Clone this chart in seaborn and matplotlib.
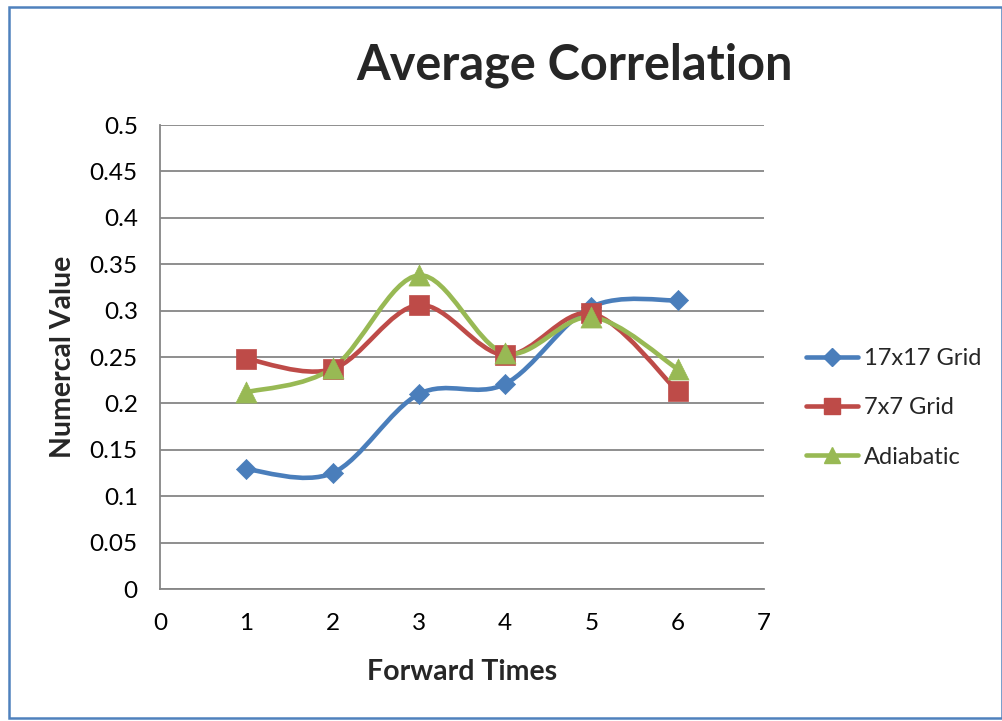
import numpy as np
import pandas as pd
import seaborn as sns
import matplotlib
matplotlib.use("Agg")
import matplotlib.pyplot as plt
from matplotlib.path import Path
from matplotlib.patches import PathPatch, Rectangle
from matplotlib.lines import Line2D

# ---- data ----
forward_times = [1, 2, 3, 4, 5, 6]
grid_17 = [0.129, 0.125, 0.210, 0.221, 0.304, 0.311]
grid_7 = [0.248, 0.237, 0.306, 0.252, 0.297, 0.213]
adiabatic = [0.212, 0.238, 0.338, 0.254, 0.293, 0.237]
series_names = ["17x17 Grid", "7x7 Grid", "Adiabatic"]
y_ticks = [0, 0.05, 0.1, 0.15, 0.2, 0.25, 0.3, 0.35, 0.4, 0.45, 0.5]
y_tick_labels = ["0", "0.05", "0.1", "0.15", "0.2", "0.25", "0.3", "0.35", "0.4", "0.45", "0.5"]
x_ticks = [0, 1, 2, 3, 4, 5, 6, 7]

sns.set_style("white")
plt.rcParams["font.family"] = ["Lato", "DejaVu Sans"]

colors = ["#4A7EBB", "#BE4B48", "#98B954"]
markers = ["D", "s", "^"]
sizes = [105, 200, 230]
GRID = "#868686"

df = pd.DataFrame({
    "x": forward_times * 3,
    "y": grid_17 + grid_7 + adiabatic,
    "series": [n for n in series_names for _ in forward_times],
})

W, H = 1003, 721
fig = plt.figure(figsize=(W / 100, H / 100), dpi=100)
ax = fig.add_axes([160 / W, 1 - 589 / H, 604 / W, 464 / H])


def smooth_path(xs, ys):
    """Cubic Bezier path through the points (Catmull-Rom style tangents)."""
    p = np.column_stack([xs, ys]).astype(float)
    n = len(p)
    verts = [p[0]]
    codes = [Path.MOVETO]
    for i in range(n - 1):
        p0 = p[i - 1] if i > 0 else p[i]
        p1 = p[i]
        p2 = p[i + 1]
        p3 = p[i + 2] if i + 2 < n else p[i + 1]
        c1 = p1 + (p2 - p0) / 6.0
        c2 = p2 - (p3 - p1) / 6.0
        verts += [c1, c2, p2]
        codes += [Path.CURVE4] * 3
    return Path(verts, codes)


for name, col, mk, sz in zip(series_names, colors, markers, sizes):
    sub = df[df["series"] == name]
    patch = PathPatch(smooth_path(sub["x"], sub["y"]), facecolor="none",
                      edgecolor=col, lw=3.3, capstyle="round",
                      joinstyle="round", zorder=3)
    ax.add_patch(patch)
    sns.scatterplot(data=sub, x="x", y="y", marker=mk, s=sz, color=col,
                    edgecolor=col, linewidth=0.5, ax=ax, zorder=4,
                    legend=False)

ax.set_xlim(0, 7)
ax.set_ylim(0, 0.5)
ax.set_xticks(x_ticks)
ax.set_xticklabels([str(t) for t in x_ticks])
ax.set_yticks(y_ticks)
ax.set_yticklabels(y_tick_labels)
ax.yaxis.grid(True, color=GRID, lw=1.3)
ax.xaxis.grid(False)
ax.set_axisbelow(True)
for side in ["top", "right"]:
    ax.spines[side].set_visible(False)
for side in ["left", "bottom"]:
    ax.spines[side].set_color(GRID)
    ax.spines[side].set_linewidth(1.3)
ax.tick_params(axis="both", direction="out", length=6, width=1.3,
               color=GRID, labelsize=17.5, labelcolor="black")
ax.tick_params(axis="y", pad=10)
ax.tick_params(axis="x", pad=11)
ax.set_xlabel("Forward Times", fontsize=20.5, fontweight="bold", labelpad=18)
ax.set_ylabel("Numercal Value", fontsize=20.5, fontweight="bold", labelpad=10)

fig.text(575 / W, 1 - 65 / H, "Average Correlation", ha="center",
         va="center", fontsize=35, fontweight="bold")

handles = [Line2D([], [], color=c, lw=3.3, marker=m,
                  markersize=(np.sqrt(s) * (0.75 if m == "^" else 0.85)),
                  solid_capstyle="round")
           for c, m, s in zip(colors, markers, sizes)]
fig.legend(handles, series_names, loc="upper left",
           bbox_to_anchor=(806 / W, 1 - 348 / H), frameon=False,
           fontsize=17, handlelength=2.2, labelspacing=1.2,
           handletextpad=0.25, borderaxespad=0, borderpad=0)

fig.patches.append(Rectangle((9 / W, 3 / H), 993 / W, 711 / H,
                             transform=fig.transFigure, fill=False,
                             edgecolor="#4F81BD", lw=1.8, zorder=10))

fig.savefig("out.png", dpi=100)
